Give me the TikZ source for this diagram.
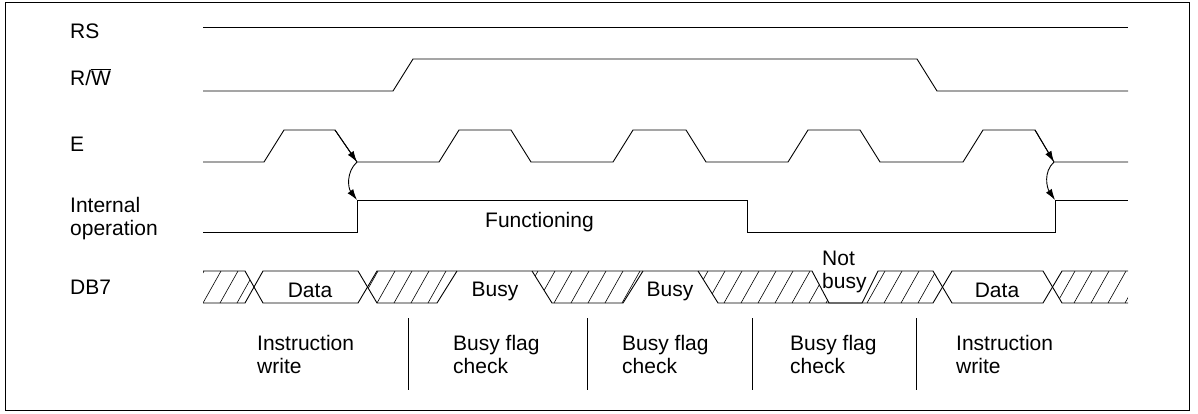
\documentclass[tikz,border=0pt]{standalone}
\usepackage{fontspec}
\setmainfont{Liberation Sans}
\usetikzlibrary{arrows.meta}
\begin{document}
\begin{tikzpicture}[x=1pt,y=-1pt,
  sig/.style={line width=0.9pt, line join=miter},
  hatchln/.style={line width=0.6pt},
  divln/.style={line width=0.8pt},
  lbl/.style={anchor=base west, inner sep=0pt, font=\fontsize{21}{23}\selectfont},
  ctr/.style={anchor=base, inner sep=0pt, font=\fontsize{21}{23}\selectfont},
  tipar/.style={line width=0.9pt, -{Latex[length=11pt,width=7pt]}}]
\useasboundingbox (0,0) rectangle (1198,413);
\draw[line width=0.9pt] (5,2) rectangle (1189,410);

% left labels
\node[lbl] (lrs) at (70,38) {RS};
\node[lbl] (lrw) at (70,85) {R/$\overline{\hbox{W}}$};
\node[lbl] (le) at (70,151) {E};
\node[lbl] (lint1) at (70,212) {Internal};
\node[lbl] (lint2) at (70,235) {operation};
\node[lbl] (ldb) at (70,294) {DB7};

% RS
\draw[sig] (203,27) -- (1128,27);
% R/W
\draw[sig] (203,91) -- (393,91) -- (413,59) -- (917,59) -- (937,91) -- (1128,91);
% E
\draw[sig] (203,162) -- (264,162) -- (284,130) -- (335,130) -- (357,162) -- (439,162) -- (459,130) -- (511,130) -- (531,162)
  -- (613,162) -- (633,130) -- (686,130) -- (706,162) -- (788,162) -- (808,130) -- (860,130) -- (880,162)
  -- (963,162) -- (983,130) -- (1035,130) -- (1054,162) -- (1128,162);
% Internal operation
\draw[sig] (203,232) -- (357,232) -- (357,200) -- (747,200) -- (747,232) -- (1055,232) -- (1055,200) -- (1128,200);
\node[lbl] (lfun) at (485,227) {Functioning};

% arrows
\coordinate (ea1) at (335,130);
\coordinate (eb1) at (357,162);
\coordinate (ic1) at (357,200);
\coordinate (ea2) at (1035,130);
\coordinate (eb2) at (1054,162);
\coordinate (ic2) at (1055,200);
\draw[tipar] (ea1) -- (eb1);
\draw[tipar] (eb1) .. controls ++(-11,10) and ++(-9,-12) .. (ic1);
\draw[tipar] (ea2) -- (eb2);
\draw[tipar] (eb2) .. controls ++(-11,10) and ++(-8,-12) .. (ic2);

% DB7 hatching
\begin{scope}
\clip (203,271) -- (245,271) -- (254,287) -- (245,303) -- (203,303) -- cycle;
\foreach \x in {186,203,...,260} \draw[hatchln] (\x,303) -- ++(18,-32);
\end{scope}
\begin{scope}
\clip (367,287) -- (377,271) -- (457,271) -- (437,303) -- (377,303) -- cycle;
\foreach \x in {360,377,...,462} \draw[hatchln] (\x,303) -- ++(18,-32);
\end{scope}
\begin{scope}
\clip (532,271) -- (643,271) -- (623,303) -- (552,303) -- cycle;
\foreach \x in {520,537,...,650} \draw[hatchln] (\x,303) -- ++(18,-32);
\end{scope}
\begin{scope}
\clip (698,271) -- (812,271) -- (829,303) -- (718,303) -- cycle;
\foreach \x in {690,707,...,835} \draw[hatchln] (\x,303) -- ++(18,-32);
\end{scope}
\begin{scope}
\clip (878,271) -- (933,271) -- (942,287) -- (933,303) -- (862,303) -- cycle;
\foreach \x in {850,867,...,950} \draw[hatchln] (\x,303) -- ++(18,-32);
\end{scope}
\begin{scope}
\clip (1053,287) -- (1062,271) -- (1128,271) -- (1128,303) -- (1062,303) -- cycle;
\foreach \x in {1040,1057,...,1135} \draw[hatchln] (\x,303) -- ++(18,-32);
\end{scope}

% DB7 outline
\draw[sig] (203,271) -- (245,271) -- (263,303) -- (358,303) -- (377,271) -- (812,271) -- (829,303) -- (862,303);
\draw[sig] (203,303) -- (245,303) -- (263,271) -- (358,271) -- (377,303) -- (437,303) -- (457,271);
\draw[sig] (532,271) -- (552,303) -- (623,303) -- (643,271);
\draw[sig] (698,271) -- (718,303) -- (933,303) -- (952,271) -- (1043,271) -- (1062,303) -- (1128,303);
\draw[sig] (862,303) -- (878,271) -- (933,271) -- (952,303) -- (1043,303) -- (1062,271) -- (1128,271);

% DB7 texts
\node[ctr] (d1) at (310,297) {Data};
\node[ctr] (b1) at (495,296) {Busy};
\node[ctr] (b2) at (670,296) {Busy};
\node[lbl] (nb1) at (822,265) {Not};
\node[lbl] (nb2) at (822,288) {busy};
\node[ctr] (d2) at (997,297) {Data};

% dividers
\draw[divln] (408,318) -- (408,390);
\draw[divln] (587,318) -- (587,390);
\draw[divln] (752,318) -- (752,390);
\draw[divln] (916,318) -- (916,390);

% bottom labels
\node[lbl] (p1a) at (257,350) {Instruction};
\node[lbl] (p1b) at (257,373) {write};
\node[lbl] (p2a) at (453,350) {Busy flag};
\node[lbl] (p2b) at (453,373) {check};
\node[lbl] (p3a) at (622,350) {Busy flag};
\node[lbl] (p3b) at (622,373) {check};
\node[lbl] (p4a) at (790,350) {Busy flag};
\node[lbl] (p4b) at (790,373) {check};
\node[lbl] (p5a) at (956,350) {Instruction};
\node[lbl] (p5b) at (956,373) {write};
\end{tikzpicture}
\end{document}
